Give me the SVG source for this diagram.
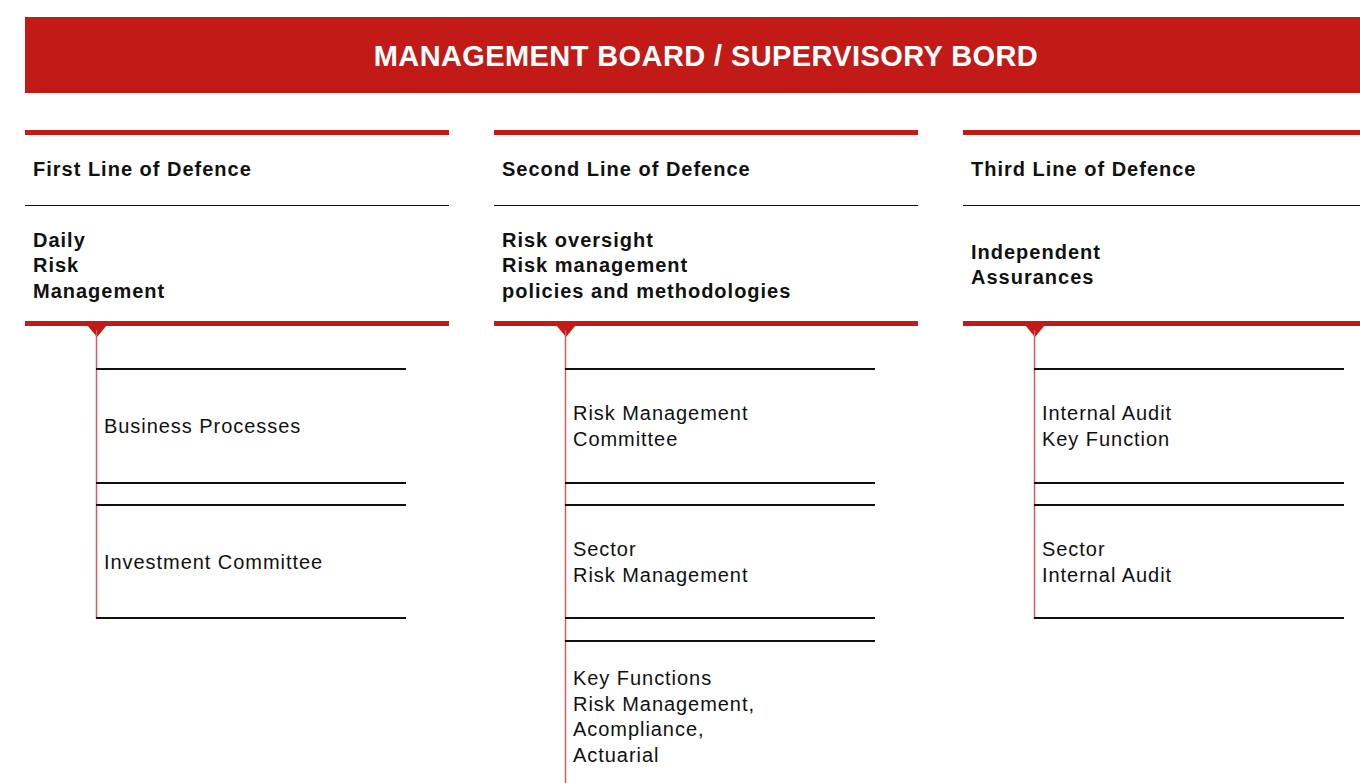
<svg xmlns="http://www.w3.org/2000/svg" width="1360" height="783" viewBox="0 0 1360 783">
  <style>
    .red { fill: #C21A17; }
    .title { font-family: "Liberation Sans", Arial, sans-serif; font-weight: bold; font-size: 29px; letter-spacing: 0.4px; fill: #ffffff; }
    .head { font-family: "Liberation Sans", Arial, sans-serif; font-weight: bold; font-size: 20px; letter-spacing: 1px; fill: #111111; }
    .item { font-family: "Liberation Sans", Arial, sans-serif; font-size: 20px; letter-spacing: 0.95px; fill: #111111; }
    .rule { stroke: #111111; stroke-width: 1.2; }
    .sep { stroke: #111111; stroke-width: 2; }
    .stem { stroke: #D85A5A; stroke-width: 1.5; }
  </style>
  <defs>
    <!-- pointer under each column's bottom bar -->
    <path id="pointer" d="M-10,0 L10,0 L0,12 Z"/>
  </defs>
  <rect width="1360" height="783" fill="#ffffff"/>

  <g id="board">
    <rect class="red" x="25" y="17" width="1335" height="76"/>
    <text class="title" x="706" y="66" text-anchor="middle">MANAGEMENT BOARD / SUPERVISORY BORD</text>
  </g>

  <g id="first-line">
    <rect class="red" x="25" y="130" width="424" height="5"/>
    <text class="head" x="33" y="176">First Line of Defence</text>
    <line class="rule" x1="25" y1="205.5" x2="449" y2="205.5"/>
    <text class="head" x="33" y="247">Daily</text>
    <text class="head" x="33" y="272">Risk</text>
    <text class="head" x="33" y="298">Management</text>
    <rect class="red" x="25" y="321" width="424" height="5"/>
    <use href="#pointer" class="red" x="97" y="325"/>
  </g>

  <g id="second-line">
    <rect class="red" x="494" y="130" width="424" height="5"/>
    <text class="head" x="502" y="176">Second Line of Defence</text>
    <line class="rule" x1="494" y1="205.5" x2="918" y2="205.5"/>
    <text class="head" x="502" y="247">Risk oversight</text>
    <text class="head" x="502" y="272">Risk management</text>
    <text class="head" x="502" y="298">policies and methodologies</text>
    <rect class="red" x="494" y="321" width="424" height="5"/>
    <use href="#pointer" class="red" x="566" y="325"/>
  </g>

  <g id="third-line">
    <rect class="red" x="963" y="130" width="397" height="5"/>
    <text class="head" x="971" y="176">Third Line of Defence</text>
    <line class="rule" x1="963" y1="205.5" x2="1360" y2="205.5"/>
    <text class="head" x="971" y="259">Independent</text>
    <text class="head" x="971" y="284">Assurances</text>
    <rect class="red" x="963" y="321" width="397" height="5"/>
    <use href="#pointer" class="red" x="1035" y="325"/>
  </g>

  <g id="connectors">
    <line class="stem" x1="96.5" y1="330" x2="96.5" y2="619"/>
    <line class="stem" x1="565.5" y1="330" x2="565.5" y2="783"/>
    <line class="stem" x1="1034.5" y1="330" x2="1034.5" y2="619"/>
  </g>

  <g id="business-processes">
    <line class="sep" x1="96" y1="369" x2="406" y2="369"/>
    <text class="item" x="104" y="433">Business Processes</text>
    <line class="sep" x1="96" y1="483" x2="406" y2="483"/>
  </g>
  <g id="investment-committee">
    <line class="sep" x1="96" y1="505" x2="406" y2="505"/>
    <text class="item" x="104" y="569">Investment Committee</text>
    <line class="sep" x1="96" y1="618" x2="406" y2="618"/>
  </g>

  <g id="risk-management-committee">
    <line class="sep" x1="565" y1="369" x2="875" y2="369"/>
    <text class="item" x="573" y="420">Risk Management</text>
    <text class="item" x="573" y="446">Committee</text>
    <line class="sep" x1="565" y1="483" x2="875" y2="483"/>
  </g>
  <g id="sector-risk-management">
    <line class="sep" x1="565" y1="505" x2="875" y2="505"/>
    <text class="item" x="573" y="556">Sector</text>
    <text class="item" x="573" y="582">Risk Management</text>
    <line class="sep" x1="565" y1="618" x2="875" y2="618"/>
  </g>
  <g id="key-functions">
    <line class="sep" x1="565" y1="641" x2="875" y2="641"/>
    <text class="item" x="573" y="685">Key Functions</text>
    <text class="item" x="573" y="711">Risk Management,</text>
    <text class="item" x="573" y="736">Acompliance,</text>
    <text class="item" x="573" y="762">Actuarial</text>
  </g>

  <g id="internal-audit">
    <line class="sep" x1="1034" y1="369" x2="1344" y2="369"/>
    <text class="item" x="1042" y="420">Internal Audit</text>
    <text class="item" x="1042" y="446">Key Function</text>
    <line class="sep" x1="1034" y1="483" x2="1344" y2="483"/>
  </g>
  <g id="sector-internal-audit">
    <line class="sep" x1="1034" y1="505" x2="1344" y2="505"/>
    <text class="item" x="1042" y="556">Sector</text>
    <text class="item" x="1042" y="582">Internal Audit</text>
    <line class="sep" x1="1034" y1="618" x2="1344" y2="618"/>
  </g>
</svg>
